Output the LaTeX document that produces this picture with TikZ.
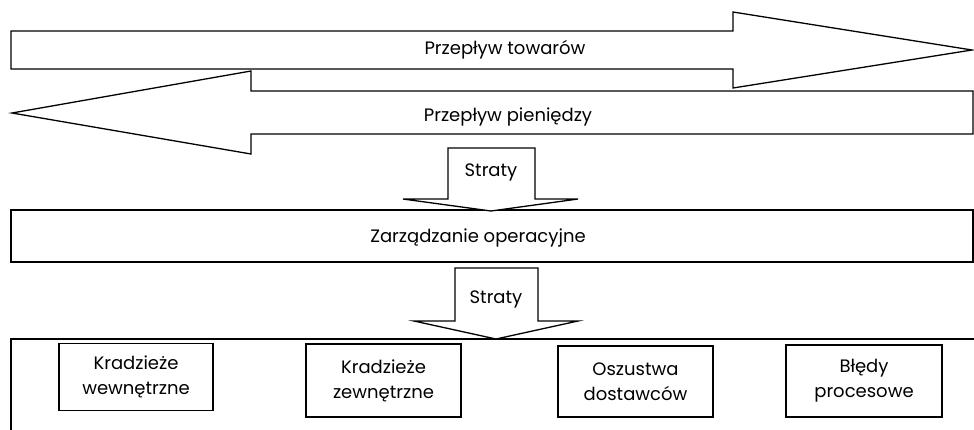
\documentclass[tikz,border=0pt]{standalone}
\usepackage{fontspec}
\setmainfont{Poppins}
\begin{document}
\begin{tikzpicture}[x=1pt,y=-1pt,
  shp/.style={draw=black,line width=1.3pt,fill=white,line join=miter},
  lbl/.style={font=\fontsize{18}{22}\selectfont,inner sep=0pt},
  inbox/.style={draw=black,line width=1.3pt,fill=white,inner sep=0pt,align=center,font=\fontsize{18}{25}\selectfont}]
\useasboundingbox (0,0) rectangle (974,429);
% top arrow (flow of goods)
\draw[shp] (11,31) -- (733,31) -- (733,12) -- (972,50) -- (733,88) -- (733,69) -- (11,69) -- cycle;
\node[lbl] (towary) at (505,50) {Przepływ towarów};
% left arrow (flow of money)
\draw[shp] (12,113) -- (251,71) -- (251,91) -- (973,91) -- (973,134) -- (251,134) -- (251,154) -- cycle;
\node[lbl] (pieniadze) at (508,117) {Przepływ pieniędzy};
% Zarzadzanie box
\draw[shp] (11,210) rectangle (973,262);
\node[lbl] (zarz) at (478,238) {Zarządzanie operacyjne};
% Straty arrow 1
\draw[shp] (448,148) -- (535,148) -- (535,199) -- (578,199) -- (491,211) -- (403,199) -- (448,199) -- cycle;
\node[lbl] (straty1) at (491,172) {Straty};
% bottom box (open at bottom)
\draw[shp,fill=none] (11,432) -- (11,339) -- (976,339);
% Straty arrow 2
\draw[shp] (455,268) -- (538,268) -- (538,321) -- (578,321) -- (496,339) -- (414,321) -- (455,321) -- cycle;
\node[lbl] (straty2) at (496,299) {Straty};
% inner boxes
\node[inbox,minimum width=154pt,minimum height=67pt] (b1) at (136,377) {Kradzieże\\wewnętrzne};
\node[inbox,minimum width=155pt,minimum height=73pt] (b2) at (383.5,380.5) {Kradzieże\\zewnętrzne};
\node[inbox,minimum width=155pt,minimum height=71pt] (b3) at (635.5,381.5) {Oszustwa\\dostawców};
\node[inbox,minimum width=156pt,minimum height=72pt] (b4) at (864,381) {Błędy\\procesowe};
\end{tikzpicture}
\end{document}
